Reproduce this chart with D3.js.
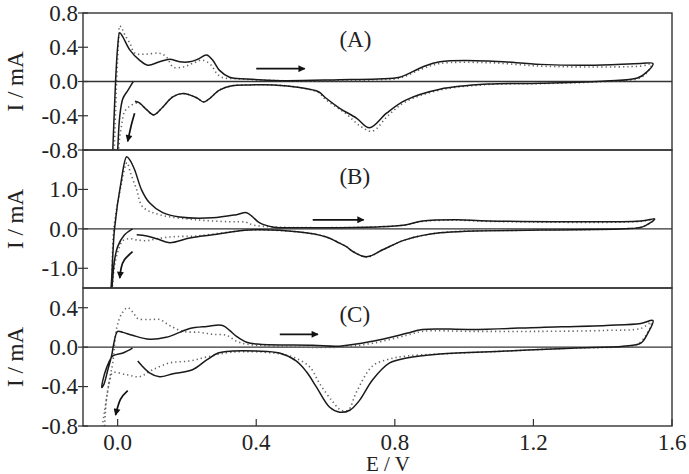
<!DOCTYPE html>
<html><head><meta charset="utf-8">
<script src="https://cdn.jsdelivr.net/npm/d3@7"></script>
<style>body{margin:0;background:#fff}svg{display:block}text{font-family:"Liberation Serif","Times New Roman",serif;fill:#222}</style>
</head><body><svg id="c" width="689" height="474"></svg>
<script>
// ---- data (E / V, I / mA) ----
const xTicks = [0.0, 0.4, 0.8, 1.2, 1.6];
const panelNames = ["(A)", "(B)", "(C)"];
const yDomains = [[-0.8, 0.8], [-1.5, 2.0], [-0.8, 0.6]];
const yTicksA = [-0.8, -0.4, 0.0, 0.4, 0.8];
const yTicksB = [-1.0, 0.0, 1.0];
const yTicksC = [-0.8, -0.4, 0.0, 0.4];

const solidA = [[0.045,0.0],[0.03,-0.1],[0.015,-0.2],[0.006,-0.41],[0.0,-0.8],[-0.003,-0.95],[-0.016,-0.95],[-0.014,-0.8],[-0.006,0.0],[0.0,0.4],[0.006,0.57],[0.015,0.52],[0.035,0.37],[0.063,0.25],[0.087,0.19],[0.121,0.23],[0.15,0.26],[0.179,0.23],[0.208,0.23],[0.231,0.26],[0.257,0.31],[0.274,0.25],[0.294,0.13],[0.323,0.05],[0.372,0.03],[0.47,0.01],[0.64,0.02],[0.75,0.03],[0.814,0.05],[0.88,0.17],[0.93,0.23],[1.07,0.24],[1.22,0.20],[1.36,0.19],[1.51,0.21],[1.545,0.21],[1.527,0.11],[1.50,0.04],[1.41,0.005],[1.22,-0.02],[1.07,-0.03],[0.93,-0.09],[0.83,-0.22],[0.776,-0.37],[0.727,-0.54],[0.69,-0.43],[0.64,-0.31],[0.60,-0.19],[0.58,-0.12],[0.525,-0.07],[0.45,-0.04],[0.38,-0.04],[0.33,-0.05],[0.294,-0.10],[0.262,-0.21],[0.248,-0.24],[0.228,-0.19],[0.188,-0.14],[0.159,-0.18],[0.13,-0.30],[0.104,-0.39],[0.084,-0.33],[0.063,-0.25],[0.05,-0.23]];
const dottedA = [[-0.012,-0.95],[-0.01,-0.8],[-0.003,0.0],[0.003,0.5],[0.006,0.65],[0.012,0.62],[0.02,0.55],[0.035,0.45],[0.05,0.33],[0.084,0.32],[0.121,0.33],[0.14,0.29],[0.16,0.17],[0.19,0.17],[0.216,0.21],[0.245,0.25],[0.27,0.19],[0.285,0.10],[0.30,0.05],[0.35,0.03],[0.47,0.01],[0.64,0.01],[0.75,0.02],[0.814,0.04],[0.88,0.15],[0.93,0.21],[1.07,0.22],[1.22,0.18],[1.36,0.17],[1.51,0.18],[1.54,0.20],[1.527,0.10],[1.50,0.03],[1.41,0.0],[1.22,-0.025],[1.07,-0.035],[0.93,-0.10],[0.83,-0.24],[0.78,-0.40],[0.735,-0.58],[0.70,-0.52],[0.66,-0.38],[0.60,-0.21],[0.58,-0.13],[0.525,-0.07],[0.45,-0.04],[0.38,-0.04],[0.33,-0.05],[0.294,-0.10],[0.262,-0.21],[0.248,-0.24],[0.228,-0.19],[0.188,-0.14],[0.159,-0.18],[0.13,-0.30],[0.104,-0.39],[0.084,-0.33],[0.058,-0.25],[0.035,-0.29],[0.02,-0.35],[0.012,-0.5],[0.006,-0.65],[0.003,-0.8],[0.0,-0.95]];

const solidB = [[0.043,0.0],[0.02,-0.15],[0.0,-0.45],[-0.009,-0.8],[-0.017,-1.55],[-0.019,-1.7],[-0.022,-1.7],[-0.019,-1.5],[-0.009,0.0],[0.01,1.2],[0.026,1.83],[0.035,1.75],[0.049,1.50],[0.069,0.99],[0.092,0.66],[0.13,0.41],[0.179,0.30],[0.274,0.28],[0.343,0.36],[0.372,0.41],[0.39,0.30],[0.41,0.15],[0.447,0.05],[0.563,0.03],[0.75,0.05],[0.83,0.10],[0.88,0.20],[0.98,0.23],[1.07,0.20],[1.51,0.20],[1.55,0.25],[1.515,0.05],[1.46,0.0],[1.22,-0.03],[0.93,-0.10],[0.83,-0.28],[0.765,-0.53],[0.718,-0.71],[0.68,-0.58],[0.66,-0.45],[0.64,-0.36],[0.60,-0.2],[0.525,-0.08],[0.38,-0.03],[0.274,-0.15],[0.208,-0.23],[0.15,-0.35],[0.113,-0.25],[0.084,-0.18],[0.055,-0.15]];
const dottedB = [[-0.021,-1.7],[-0.018,-1.5],[-0.011,0.0],[0.01,1.1],[0.027,1.68],[0.037,1.42],[0.055,0.99],[0.072,0.56],[0.121,0.36],[0.228,0.23],[0.323,0.18],[0.37,0.17],[0.39,0.10],[0.447,0.05],[0.563,0.03],[0.75,0.05],[0.83,0.10],[0.88,0.19],[0.98,0.22],[1.07,0.19],[1.51,0.19],[1.55,0.25],[1.515,0.05],[1.46,0.0],[1.22,-0.03],[0.93,-0.10],[0.83,-0.28],[0.765,-0.53],[0.72,-0.72],[0.68,-0.58],[0.66,-0.45],[0.64,-0.36],[0.60,-0.2],[0.525,-0.08],[0.38,-0.03],[0.323,-0.08],[0.228,-0.18],[0.159,-0.20],[0.113,-0.25],[0.084,-0.30],[0.055,-0.28],[0.035,-0.25],[0.015,-0.3],[0.0,-0.6],[-0.01,-1.0],[-0.017,-1.7]];

const solidC = [[0.043,-0.01],[0.015,-0.06],[-0.014,-0.09],[-0.032,-0.21],[-0.043,-0.34],[-0.046,-0.41],[-0.04,-0.38],[-0.029,-0.24],[-0.017,-0.08],[-0.012,0.02],[0.0,0.16],[0.015,0.15],[0.043,0.12],[0.092,0.08],[0.14,0.10],[0.179,0.15],[0.208,0.19],[0.257,0.21],[0.303,0.22],[0.323,0.17],[0.343,0.11],[0.372,0.05],[0.41,0.03],[0.563,0.02],[0.64,0.01],[0.736,0.06],[0.834,0.14],[0.88,0.18],[1.02,0.18],[1.22,0.20],[1.41,0.22],[1.51,0.24],[1.545,0.27],[1.53,0.14],[1.51,0.04],[1.46,0.01],[1.31,-0.01],[1.12,-0.04],[0.93,-0.07],[0.834,-0.11],[0.785,-0.16],[0.736,-0.33],[0.698,-0.54],[0.67,-0.64],[0.641,-0.66],[0.612,-0.61],[0.573,-0.40],[0.545,-0.25],[0.515,-0.14],[0.467,-0.06],[0.40,-0.04],[0.332,-0.04],[0.29,-0.06],[0.257,-0.13],[0.216,-0.23],[0.16,-0.27],[0.121,-0.30],[0.092,-0.26],[0.058,-0.14]];
const dottedC = [[-0.046,-0.85],[-0.04,-0.70],[-0.032,-0.52],[-0.022,-0.30],[-0.014,-0.16],[-0.003,0.19],[0.012,0.34],[0.029,0.40],[0.045,0.35],[0.058,0.29],[0.092,0.28],[0.121,0.28],[0.15,0.22],[0.188,0.16],[0.237,0.15],[0.274,0.13],[0.314,0.12],[0.343,0.06],[0.372,0.03],[0.45,0.01],[0.64,0.0],[0.736,0.04],[0.834,0.12],[0.88,0.16],[1.02,0.16],[1.22,0.16],[1.41,0.17],[1.51,0.19],[1.54,0.25],[1.525,0.12],[1.50,0.03],[1.46,0.005],[1.31,-0.01],[1.12,-0.04],[0.93,-0.07],[0.834,-0.09],[0.785,-0.12],[0.736,-0.19],[0.69,-0.45],[0.665,-0.64],[0.645,-0.64],[0.62,-0.55],[0.583,-0.37],[0.554,-0.20],[0.505,-0.10],[0.45,-0.06],[0.33,-0.05],[0.257,-0.10],[0.208,-0.14],[0.15,-0.16],[0.101,-0.23],[0.063,-0.30],[0.026,-0.28],[-0.014,-0.26],[-0.023,-0.34],[-0.032,-0.52],[-0.036,-0.69],[-0.038,-0.85]];

// arrow annotations (data coords)
const straightArrows = [[[0.40,0.15],[0.54,0.15]], [[0.563,0.23],[0.71,0.23]], [[0.468,0.13],[0.578,0.13]]];
const curvedArrows = [[[0.049,-0.37],[0.04,-0.5],[0.029,-0.70]], [[0.043,-0.58],[0.02,-0.78],[0.01,-1.0],[0.006,-1.25]], [[0.029,-0.44],[0.008,-0.53],[-0.006,-0.69]]];

const solids = [solidA, solidB, solidC];
const dotteds = [dottedA, dottedB, dottedC];
const yTicks = [yTicksA, yTicksB, yTicksC];

// ---- layout ----
const svg = d3.select("#c");
const L = 83, R = 672;
const tops = [13, 150, 288], bots = [150, 288, 426];
const x = d3.scaleLinear().domain([-0.1, 1.6]).range([L, R]);

const defs = svg.append("defs");
defs.append("marker").attr("id","ah").attr("viewBox","0 0 10 10").attr("refX",9).attr("refY",5)
  .attr("markerWidth",11).attr("markerHeight",7).attr("markerUnits","userSpaceOnUse")
  .attr("orient","auto").append("path").attr("d","M0,0 L10,5 L0,10 Z").attr("fill","#111");
defs.append("marker").attr("id","ah2").attr("viewBox","0 0 10 10").attr("refX",9).attr("refY",5)
  .attr("markerWidth",13).attr("markerHeight",7).attr("markerUnits","userSpaceOnUse")
  .attr("orient","auto").append("path").attr("d","M0,0 L10,5 L0,10 Z").attr("fill","#111");

panelNames.forEach((name, i) => {
  const y = d3.scaleLinear().domain(yDomains[i]).range([bots[i], tops[i]]);
  const g = svg.append("g");
  defs.append("clipPath").attr("id","cp"+i).append("rect")
    .attr("x",L).attr("y",tops[i]).attr("width",R-L).attr("height",bots[i]-tops[i]);
  g.append("line").attr("x1",L).attr("x2",R).attr("y1",y(0)).attr("y2",y(0))
    .attr("stroke","#333").attr("stroke-width",1.3);
  const line = d3.line().x(d=>x(d[0])).y(d=>y(d[1])).curve(d3.curveCatmullRom.alpha(0.5));
  const cg = g.append("g").attr("clip-path","url(#cp"+i+")");
  cg.append("path").attr("d", line(dotteds[i])).attr("fill","none").attr("stroke","#666")
    .attr("stroke-width",1.6).attr("stroke-dasharray","1.3,3");
  cg.append("path").attr("d", line(solids[i])).attr("fill","none").attr("stroke","#1a1a1a")
    .attr("stroke-width",1.5).attr("stroke-linejoin","round");
  const sa = straightArrows[i];
  g.append("line").attr("x1",x(sa[0][0])).attr("y1",y(sa[0][1])).attr("x2",x(sa[1][0])).attr("y2",y(sa[1][1]))
    .attr("stroke","#111").attr("stroke-width",1.8).attr("marker-end","url(#ah2)");
  const ca = d3.line().x(d=>x(d[0])).y(d=>y(d[1])).curve(d3.curveNatural);
  g.append("path").attr("d", ca(curvedArrows[i])).attr("fill","none").attr("stroke","#111")
    .attr("stroke-width",1.7).attr("marker-end","url(#ah)");
  g.append("rect").attr("x",L).attr("y",tops[i]).attr("width",R-L).attr("height",bots[i]-tops[i])
    .attr("fill","none").attr("stroke","#333").attr("stroke-width",1.4);
  yTicks[i].forEach(t => {
    g.append("line").attr("x1",L-5).attr("x2",L+5).attr("y1",y(t)).attr("y2",y(t))
      .attr("stroke","#333").attr("stroke-width",1.2);
    g.append("text").attr("x",L-5).attr("y",y(t)).attr("dy","0.34em").attr("text-anchor","end")
      .attr("font-size",23).text(t.toFixed(1));
  });
  const yc = (tops[i]+bots[i])/2;
  g.append("text").attr("transform",`translate(23,${yc}) rotate(-90)`).attr("text-anchor","middle")
    .attr("font-size",23).text("I / mA");
  g.append("text").attr("x",x(0.64)).attr("y",tops[i]+34).attr("font-size",23).text(name);
});

xTicks.forEach(t => {
  svg.append("line").attr("x1",x(t)).attr("x2",x(t)).attr("y1",426).attr("y2",419)
    .attr("stroke","#333").attr("stroke-width",1.2);
  svg.append("text").attr("x",x(t)).attr("y",450).attr("text-anchor","middle")
    .attr("font-size",23).text(t.toFixed(1));
});
svg.append("text").attr("x",x(0.78)).attr("y",471).attr("text-anchor","middle")
  .attr("font-size",21).text("E / V");
</script></body></html>
